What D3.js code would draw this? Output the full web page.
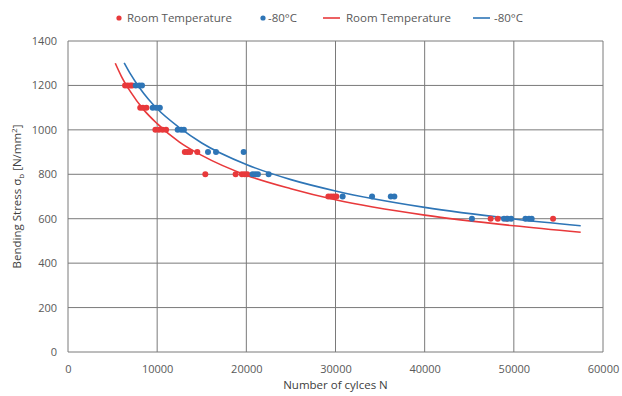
<!DOCTYPE html>
<html><head><meta charset="utf-8">
<script src="https://cdn.jsdelivr.net/npm/d3@7"></script>
<style>body{margin:0;background:#fff}svg{display:block}text{font-family:"Open Sans","Noto Sans",sans-serif}</style>
</head><body><svg id="c" width="622" height="396"></svg>
<script>
const xTicks=[0,10000,20000,30000,40000,50000,60000];
const yTicks=[0,200,400,600,800,1000,1200,1400];
const redN=[6400,6700,7000,7200,8100,8400,8800,9800,10200,10600,11000,13100,13400,13700,14500,15400,18800,19500,19800,20100,29200,29500,29800,30100,47400,48200,49200,54400];
const redS=[1200,1200,1200,1200,1100,1100,1100,1000,1000,1000,1000,900,900,900,900,800,800,800,800,800,700,700,700,700,600,600,600,600];
const blueN=[7600,8000,8300,9500,9900,10300,12300,12700,13000,15700,16600,19700,20700,21000,21300,22500,30800,34100,36200,36600,45300,48900,49300,49700,51300,51700,52000];
const blueS=[1200,1200,1200,1100,1100,1100,1000,1000,1000,900,900,900,800,800,800,800,700,700,700,700,600,600,600,600,600,600,600];
const redCurveN=[5300,6000,7000,8500,10000,12500,15000,20000,25000,30000,40000,50000,57500];
const redCurveS=[1300,1240,1172,1090,1028,945,885,796,735,685,616,568,539];
const blueCurveN=[6300,7000,8000,9000,10000,12500,15000,20000,25000,30000,40000,50000,57500];
const blueCurveS=[1302,1252,1191,1139,1095,1010,941,844,776,725,651,599,568];
const RED="#e8393b",BLUE="#2e75b6";
const svg=d3.select("#c");
const L=68,R=603,T=41,B=352;
const x=d3.scaleLinear().domain([0,60000]).range([L,R]);
const y=d3.scaleLinear().domain([0,1400]).range([B,T]);
const g=svg.append("g");
g.selectAll(".gx").data(xTicks).join("line").attr("x1",d=>x(d)).attr("x2",d=>x(d)).attr("y1",T).attr("y2",B).attr("stroke","#7a7a7a").attr("stroke-width",1);
g.selectAll(".gy").data(yTicks).join("line").attr("y1",d=>y(d)).attr("y2",d=>y(d)).attr("x1",L).attr("x2",R).attr("stroke","#7a7a7a").attr("stroke-width",1);
const xa=svg.append("g").attr("transform",`translate(0,${B})`).call(d3.axisBottom(x).tickValues(xTicks).tickSize(0).tickPadding(13).tickFormat(d3.format("d")));
xa.select(".domain").remove();
xa.selectAll("text").attr("font-size",11).attr("fill","#595959");
const ya=svg.append("g").attr("transform",`translate(${L},0)`).call(d3.axisLeft(y).tickValues(yTicks).tickSize(0).tickPadding(11).tickFormat(d3.format("d")));
ya.select(".domain").remove();
ya.selectAll("text").attr("font-size",11).attr("fill","#595959");
const line=d3.line().x(d=>x(d[0])).y(d=>y(d[1])).curve(d3.curveMonotoneX);
svg.append("path").datum(redCurveN.map((n,i)=>[n,redCurveS[i]])).attr("d",line).attr("fill","none").attr("stroke",RED).attr("stroke-width",1.6);
svg.append("path").datum(blueCurveN.map((n,i)=>[n,blueCurveS[i]])).attr("d",line).attr("fill","none").attr("stroke",BLUE).attr("stroke-width",1.6);
svg.append("g").selectAll("circle").data(redN.map((n,i)=>[n,redS[i]])).join("circle").attr("cx",d=>x(d[0])).attr("cy",d=>y(d[1])).attr("r",3).attr("fill",RED);
svg.append("g").selectAll("circle").data(blueN.map((n,i)=>[n,blueS[i]])).join("circle").attr("cx",d=>x(d[0])).attr("cy",d=>y(d[1])).attr("r",3).attr("fill",BLUE);
svg.append("text").attr("x",(L+R)/2).attr("y",389).attr("text-anchor","middle").attr("font-size",11.5).attr("fill","#404040").text("Number of cylces N");
const yt=svg.append("text").attr("transform",`translate(21,${(T+B)/2}) rotate(-90)`).attr("text-anchor","middle").attr("font-size",11.5).attr("fill","#404040");
yt.append("tspan").text("Bending Stress σ");
yt.append("tspan").attr("font-size",8).attr("dy",3).text("b");
yt.append("tspan").attr("dy",-3).text(" [N/mm");
yt.append("tspan").attr("font-size",8).attr("dy",-4).text("2");
yt.append("tspan").attr("dy",4).text("]");
const lg=svg.append("g").attr("font-size",11.5);
const items=[{t:"dot",c:RED,x:119,tx:127,label:"Room Temperature"},{t:"dot",c:BLUE,x:263,tx:268,label:"-80°C"},{t:"line",c:RED,x:323,tx:346,label:"Room Temperature"},{t:"line",c:BLUE,x:473,tx:494,label:"-80°C"}];
items.forEach(it=>{
  if(it.t==="dot"){lg.append("circle").attr("cx",it.x).attr("cy",18).attr("r",2.6).attr("fill",it.c);}
  else{lg.append("line").attr("x1",it.x).attr("x2",it.x+17).attr("y1",18).attr("y2",18).attr("stroke",it.c).attr("stroke-width",1.6);}
  lg.append("text").attr("x",it.tx).attr("y",22).attr("fill","#595959").text(it.label);
});
</script></body></html>
